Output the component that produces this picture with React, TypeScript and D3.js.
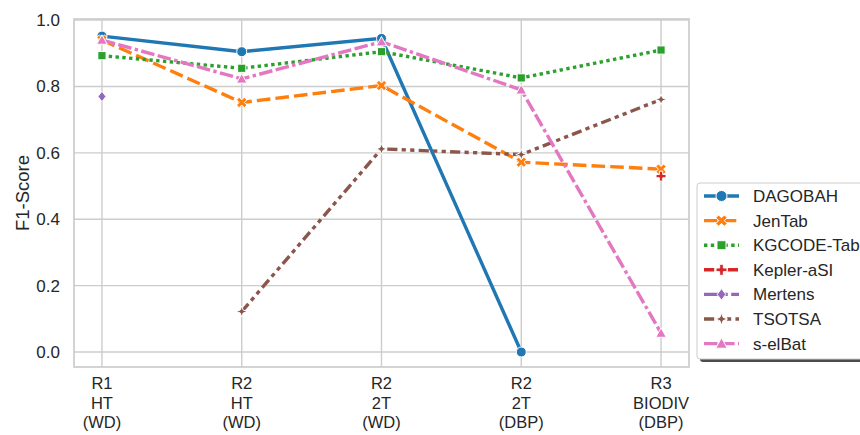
import React from "react";
import * as d3 from "d3";

const categories = ["R1\nHT\n(WD)", "R2\nHT\n(WD)", "R2\n2T\n(WD)", "R2\n2T\n(DBP)", "R3\nBIODIV\n(DBP)"];
const seriesNames = ["DAGOBAH", "JenTab", "KGCODE-Tab", "Kepler-aSI", "Mertens", "TSOTSA", "s-elBat"];
const dagobah = [0.952, 0.905, 0.945, 0.0, null];
const jentab = [0.94, 0.752, 0.803, 0.572, 0.551];
const kgcode = [0.893, 0.855, 0.905, 0.826, 0.91];
const kepler = [null, null, null, null, 0.53];
const mertens = [0.77, null, null, null, null];
const tsotsa = [null, 0.122, 0.612, 0.595, 0.761];
const selbat = [0.94, 0.823, 0.935, 0.79, 0.057];
const yTicks = [0, 0.2, 0.4, 0.6, 0.8, 1.0];
const colors = ["#1f77b4", "#ff7f0e", "#2ca02c", "#d62728", "#9467bd", "#8c564b", "#e377c2"];
const dashes: number[][] = [[], [4, 1.5], [1, 1], [3, 1.25, 1.5, 1.25], [5, 1, 1, 1], [3, 1.25, 1.25, 1.25, 1.25, 1.25], [4, 1, 4, 1, 1, 1]];
const markers = ["o", "X", "s", "P", "D", "star4", "^"];

const allSeries = [dagobah, jentab, kgcode, kepler, mertens, tsotsa, selbat];

function markerPath(m: string, s: number): string {
  switch (m) {
    case "o":
      return d3.symbol(d3.symbolCircle, Math.PI * s * s)() as string;
    case "s": {
      const h = s * 0.82;
      return `M${-h},${-h}L${h},${-h}L${h},${h}L${-h},${h}Z`;
    }
    case "D": {
      const h = s * 1.05;
      return `M0,${-h}L${h * 0.75},0L0,${h}L${-h * 0.75},0Z`;
    }
    case "^": {
      const h = s * 1.05;
      return `M0,${-h}L${h},${h * 0.8}L${-h},${h * 0.8}Z`;
    }
    case "P": {
      const a = s, b = s / 3;
      const pts = [[-b, -a], [b, -a], [b, -b], [a, -b], [a, b], [b, b], [b, a], [-b, a], [-b, b], [-a, b], [-a, -b], [-b, -b]];
      return "M" + pts.map((p) => p.join(",")).join("L") + "Z";
    }
    case "X": {
      const a = s, b = s / 3;
      const pts = [[-b, -a], [b, -a], [b, -b], [a, -b], [a, b], [b, b], [b, a], [-b, a], [-b, b], [-a, b], [-a, -b], [-b, -b]];
      const c = Math.SQRT1_2;
      const rot = pts.map(([x, y]) => [(x - y) * c * 1.1, (x + y) * c * 1.1]);
      return "M" + rot.map((p) => p.map((v) => v.toFixed(2)).join(",")).join("L") + "Z";
    }
    case "star4": {
      const R = s * 1.1, r = R * 0.38;
      const pts: number[][] = [];
      for (let i = 0; i < 8; i++) {
        const ang = (i * Math.PI) / 4 - Math.PI / 2;
        const rr = i % 2 === 0 ? R : r;
        pts.push([rr * Math.cos(ang), rr * Math.sin(ang)]);
      }
      return "M" + pts.map((p) => p.map((v) => v.toFixed(2)).join(",")).join("L") + "Z";
    }
  }
  return "";
}

const LW = 3.4;

export default function App() {
  const W = 860, H = 435;
  const left = 74, right = 689, top = 19, bottom = 367;
  const x = d3.scaleLinear().domain([-0.2, 4.2]).range([left, right]);
  const y = d3.scaleLinear().domain([-0.0452, 1.0035]).range([bottom, top]);
  const textColor = "#262626";
  const font = "'Liberation Sans', Arial, sans-serif";

  const line = d3
    .line<[number, number | null]>()
    .defined((d) => d[1] !== null)
    .x((d) => x(d[0]))
    .y((d) => y(d[1] as number));

  const legX = 697, legY = 183, legW = 175, legH = 176;
  const legRow = 24.6;

  return (
    <svg width={W} height={H} style={{ position: "absolute", left: 0, top: 0, background: "#fff" }} fontFamily={font}>
      <rect x={0} y={0} width={W} height={H} fill="#fff" />
      {yTicks.map((t) => (
        <line key={"gy" + t} x1={left} x2={right} y1={y(t)} y2={y(t)} stroke="#cccccc" strokeWidth={1.4} />
      ))}
      {categories.map((c, i) => (
        <line key={"gx" + i} x1={x(i)} x2={x(i)} y1={top} y2={bottom} stroke="#cccccc" strokeWidth={1.4} />
      ))}
      <rect x={left} y={top} width={right - left} height={bottom - top} fill="none" stroke="#cccccc" strokeWidth={1.7} />
      {yTicks.map((t) => (
        <text key={"ty" + t} x={60} y={y(t)} dy="0.35em" textAnchor="end" fontSize={17} fill={textColor}>
          {t.toFixed(1)}
        </text>
      ))}
      <text transform={`translate(29,${(top + bottom) / 2}) rotate(-90)`} textAnchor="middle" fontSize={18.5} fill={textColor}>
        F1-Score
      </text>
      {categories.map((c, i) => (
        <text key={"tx" + i} x={x(i)} y={389} textAnchor="middle" fontSize={16.5} fill={textColor}>
          {c.split("\n").map((l, j) => (
            <tspan key={j} x={x(i)} dy={j === 0 ? 0 : 19.5}>
              {l}
            </tspan>
          ))}
        </text>
      ))}
      {allSeries.map((s, k) => {
        const data = s.map((v, i) => [i, v] as [number, number | null]);
        return (
          <g key={"s" + k}>
            <path
              d={line(data) || ""}
              fill="none"
              stroke={colors[k]}
              strokeWidth={LW}
              strokeDasharray={dashes[k].length ? dashes[k].map((d) => d * LW).join(",") : undefined}
            />
            {data
              .filter((d) => d[1] !== null)
              .map((d, i) => (
                <path
                  key={i}
                  d={markerPath(markers[k], 5)}
                  transform={`translate(${x(d[0])},${y(d[1] as number)})`}
                  fill={colors[k]}
                  stroke="#fff"
                  strokeWidth={1}
                />
              ))}
          </g>
        );
      })}
      <rect x={legX + 3} y={legY + 3} width={legW} height={legH} rx={3} fill="#000" opacity={0.7} />
      <rect x={legX} y={legY} width={legW} height={legH} rx={3} fill="#fff" stroke="#cccccc" strokeWidth={1} />
      {seriesNames.map((n, k) => {
        const cy = legY + 13 + k * legRow;
        return (
          <g key={"l" + k}>
            <line
              x1={704}
              x2={739}
              y1={cy}
              y2={cy}
              stroke={colors[k]}
              strokeWidth={LW}
              strokeDasharray={dashes[k].length ? dashes[k].map((d) => d * LW).join(",") : undefined}
            />
            <path d={markerPath(markers[k], 5.5)} transform={`translate(721.5,${cy})`} fill={colors[k]} stroke="#fff" strokeWidth={1} />
            <text x={753} y={cy} dy="0.35em" fontSize={17} fill={textColor}>
              {n}
            </text>
          </g>
        );
      })}
    </svg>
  );
}
